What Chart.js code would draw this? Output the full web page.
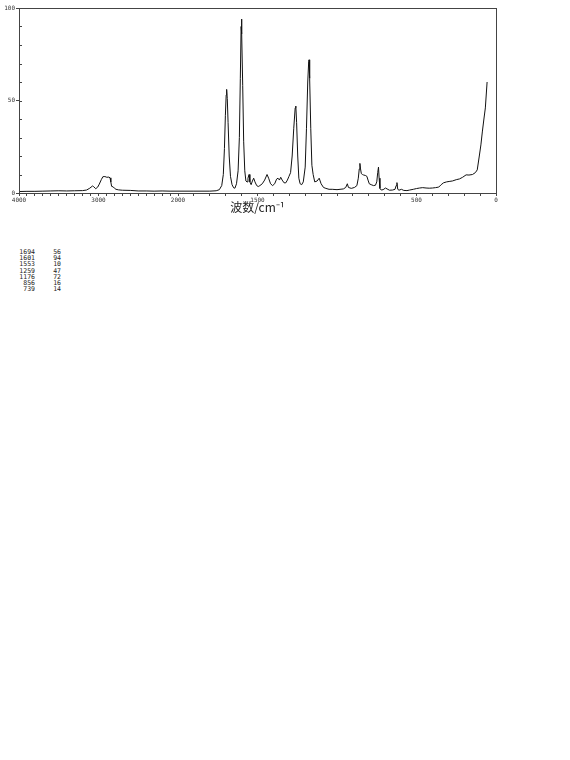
<!DOCTYPE html>
<html>
<head>
<meta charset="utf-8">
<script src="https://cdn.jsdelivr.net/npm/chart.js@4.4.1/dist/chart.umd.min.js"></script>
<style>
  body { margin: 0; background: #fff; width: 570px; height: 760px; position: relative; overflow: hidden; }
  #chartBox { position: absolute; left: 0; top: 0; width: 570px; height: 215px; }
  #peakList { position: absolute; left: 0; top: 249px; font-family: "DejaVu Sans Mono", monospace; font-size: 6.5px; line-height: 6.2px; color: #222; -webkit-font-smoothing: antialiased; }
  #peakList .row { height: 6.2px; position: relative; width: 70px; }
  #peakList .w { position: absolute; right: 35px; }
  #peakList .v { position: absolute; right: 9px; }
</style>
</head>
<body>
<div id="chartBox"><canvas id="spectrum" width="570" height="215"></canvas></div>
<div id="peakList"></div>
<script>
// 光谱数据 (波数 cm-1 / 强度)
const wavenumbers = [
  4000, 3900, 3800, 3700, 3600, 3500, 3400, 3300, 3200, 3150,
  3110, 3075, 3060, 3035, 3010, 2990, 2965, 2945, 2920, 2895,
  2870, 2855, 2845, 2835, 2815, 2800, 2780, 2750, 2700, 2600,
  2500, 2400, 2300, 2200, 2100, 2000, 1900, 1800, 1760, 1740,
  1725, 1715, 1708, 1702, 1697, 1694, 1690, 1685, 1678, 1670,
  1660, 1650, 1642, 1632, 1622, 1614, 1608, 1603, 1601, 1598,
  1593, 1587, 1580, 1573, 1566, 1560, 1553, 1548, 1540, 1532,
  1524, 1516, 1505, 1495, 1485, 1470, 1455, 1440, 1430, 1418,
  1405, 1392, 1380, 1371, 1362, 1354, 1345, 1333, 1322, 1312,
  1302, 1292, 1282, 1272, 1263, 1259, 1254, 1247, 1240, 1232,
  1222, 1212, 1200, 1192, 1184, 1178, 1176, 1172, 1165, 1158,
  1150, 1140, 1125, 1112, 1100, 1085, 1070, 1050, 1030, 1000,
  960, 945, 935, 928, 910, 890, 875, 866, 860, 856,
  852, 847, 840, 832, 822, 812, 805, 797, 785, 770,
  758, 750, 744, 739, 735, 730, 722, 710, 695, 685,
  670, 650, 635, 628, 623, 618, 610, 595, 580, 560,
  543, 520, 500, 480, 461, 440, 420, 399, 380, 360,
  345, 330, 311, 290, 274, 250, 230, 210, 188, 170,
  148, 130, 118, 105, 95, 86, 76, 67, 56
];
const intensities = [
  0.8, 0.9, 0.9, 1.0, 1.1, 1.2, 1.1, 1.2, 1.3, 1.6,
  2.6, 3.8, 3.4, 2.3, 3.2, 4.8, 7.2, 8.8, 8.9, 8.5,
  8.6, 8.2, 6.0, 3.6, 3.3, 2.6, 2.0, 1.7, 1.5, 1.4,
  1.1, 1.1, 1.0, 1.1, 1.0, 1.0, 1.0, 1.0, 1.2, 1.8,
  4, 10, 24, 42, 53, 56, 51, 38, 20, 9,
  4.5, 2.8, 2.6, 5, 12, 30, 62, 90, 94, 86,
  58, 28, 12, 6.5, 6, 8, 10, 6, 4.5, 6.5,
  8, 6, 4, 3.5, 4, 5, 7, 10, 8, 5,
  4, 5, 7.5, 8, 7, 8.5, 7, 5.5, 5.5, 7,
  9, 11, 20, 35, 46, 47, 38, 20, 8, 5,
  4.5, 6, 14, 35, 60, 71, 72, 62, 35, 15,
  10, 6, 6.5, 8, 5, 3, 2.5, 2, 2, 1.8,
  2.2, 3, 5, 3, 2.5, 3, 4, 8, 13, 16,
  13, 10.5, 10, 9.7, 9.5, 9, 7, 5, 4.5, 4,
  4.2, 6, 11, 14, 8, 2.5, 1.6, 1.8, 2.7, 2.2,
  1.5, 1.6, 2, 4, 5.6, 2, 1.5, 2, 1.4, 1.3,
  1.6, 2, 2.4, 2.7, 2.9, 2.7, 2.6, 2.7, 2.9, 3.2,
  4.5, 5.5, 6, 6.3, 6.5, 7.2, 7.6, 8.5, 9.8, 9.7,
  10, 11, 12.5, 20, 26, 33, 40, 46, 60
];

// 刻度标签
const xTickLabels = [4000, 3000, 2000, 1500, 500, 0];
const yTickLabels = [0, 50, 100];

// 峰值列表
const peakPositions = [1694, 1601, 1553, 1259, 1176, 856, 739];
const peakIntensities = [56, 94, 10, 47, 72, 16, 14];

// 2000 以上的波数压缩一半显示
function toAxis(w) {
  return w <= 2000 ? w : 2000 + (w - 2000) / 2;
}
function fromAxis(v) {
  return v <= 2000 ? v : 2000 + (v - 2000) * 2;
}

const points = wavenumbers.map((w, i) => ({ x: toAxis(w), y: intensities[i] }));

// 边框 + y 轴内侧小刻度
const framePlugin = {
  id: "frame",
  afterDraw(chart) {
    const { ctx, chartArea } = chart;
    const yScale = chart.scales.y;
    ctx.save();
    ctx.strokeStyle = "#444";
    ctx.lineWidth = 1;
    ctx.strokeRect(chartArea.left + 0.5, chartArea.top + 0.5,
      chartArea.right - chartArea.left, chartArea.bottom - chartArea.top);
    ctx.beginPath();
    for (let v = 10; v < 100; v += 10) {
      const py = Math.round(yScale.getPixelForValue(v)) + 0.5;
      ctx.moveTo(chartArea.left, py);
      ctx.lineTo(chartArea.left + 3, py);
    }
    ctx.stroke();
    ctx.restore();
  }
};

const ctx = document.getElementById("spectrum").getContext("2d");
new Chart(ctx, {
  type: "line",
  data: {
    datasets: [{
      data: points,
      borderColor: "#111",
      borderWidth: 1,
      pointRadius: 0,
      tension: 0,
      fill: false
    }]
  },
  options: {
    responsive: false,
    animation: false,
    devicePixelRatio: 1,
    layout: { padding: { left: 0, right: 74, top: 8, bottom: 0 } },
    plugins: { legend: { display: false }, tooltip: { enabled: false } },
    scales: {
      x: {
        type: "linear",
        reverse: true,
        min: 0,
        max: 3000,
        afterBuildTicks(scale) {
          const ticks = [];
          for (let w = 0; w <= 4000; w += 100) {
            ticks.push({ value: toAxis(w) });
          }
          scale.ticks = ticks;
        },
        afterFit(scale) { scale.height = 22; },
        ticks: {
          autoSkip: false,
          maxRotation: 0,
          padding: 1,
          color: "#333",
          font: { family: "DejaVu Sans Mono", size: 6 },
          callback(value) {
            const w = Math.round(fromAxis(value));
            return xTickLabels.includes(w) ? String(w) : "";
          }
        },
        grid: {
          drawOnChartArea: false,
          tickLength: 3,
          color: "#444",
          tickColor: "#444"
        },
        border: { color: "#444" },
        title: {
          display: true,
          text: "波数/cm⁻¹",
          color: "#222",
          padding: { top: 0, bottom: 0 },
          font: { family: "Noto Sans CJK SC", size: 12 }
        }
      },
      y: {
        min: 0,
        max: 100,
        afterBuildTicks(scale) {
          scale.ticks = yTickLabels.map((v) => ({ value: v }));
        },
        afterFit(scale) { scale.width = 19; },
        ticks: {
          padding: 1,
          color: "#333",
          font: { family: "DejaVu Sans Mono", size: 6 }
        },
        grid: {
          drawOnChartArea: false,
          tickLength: 3,
          color: "#444",
          tickColor: "#444"
        },
        border: { color: "#444" }
      }
    }
  },
  plugins: [framePlugin]
});

// 峰值表
const list = document.getElementById("peakList");
peakPositions.forEach((p, i) => {
  const row = document.createElement("div");
  row.className = "row";
  const a = document.createElement("span");
  a.className = "w";
  a.textContent = p;
  const b = document.createElement("span");
  b.className = "v";
  b.textContent = peakIntensities[i];
  row.appendChild(a);
  row.appendChild(b);
  list.appendChild(row);
});
</script>
</body>
</html>
